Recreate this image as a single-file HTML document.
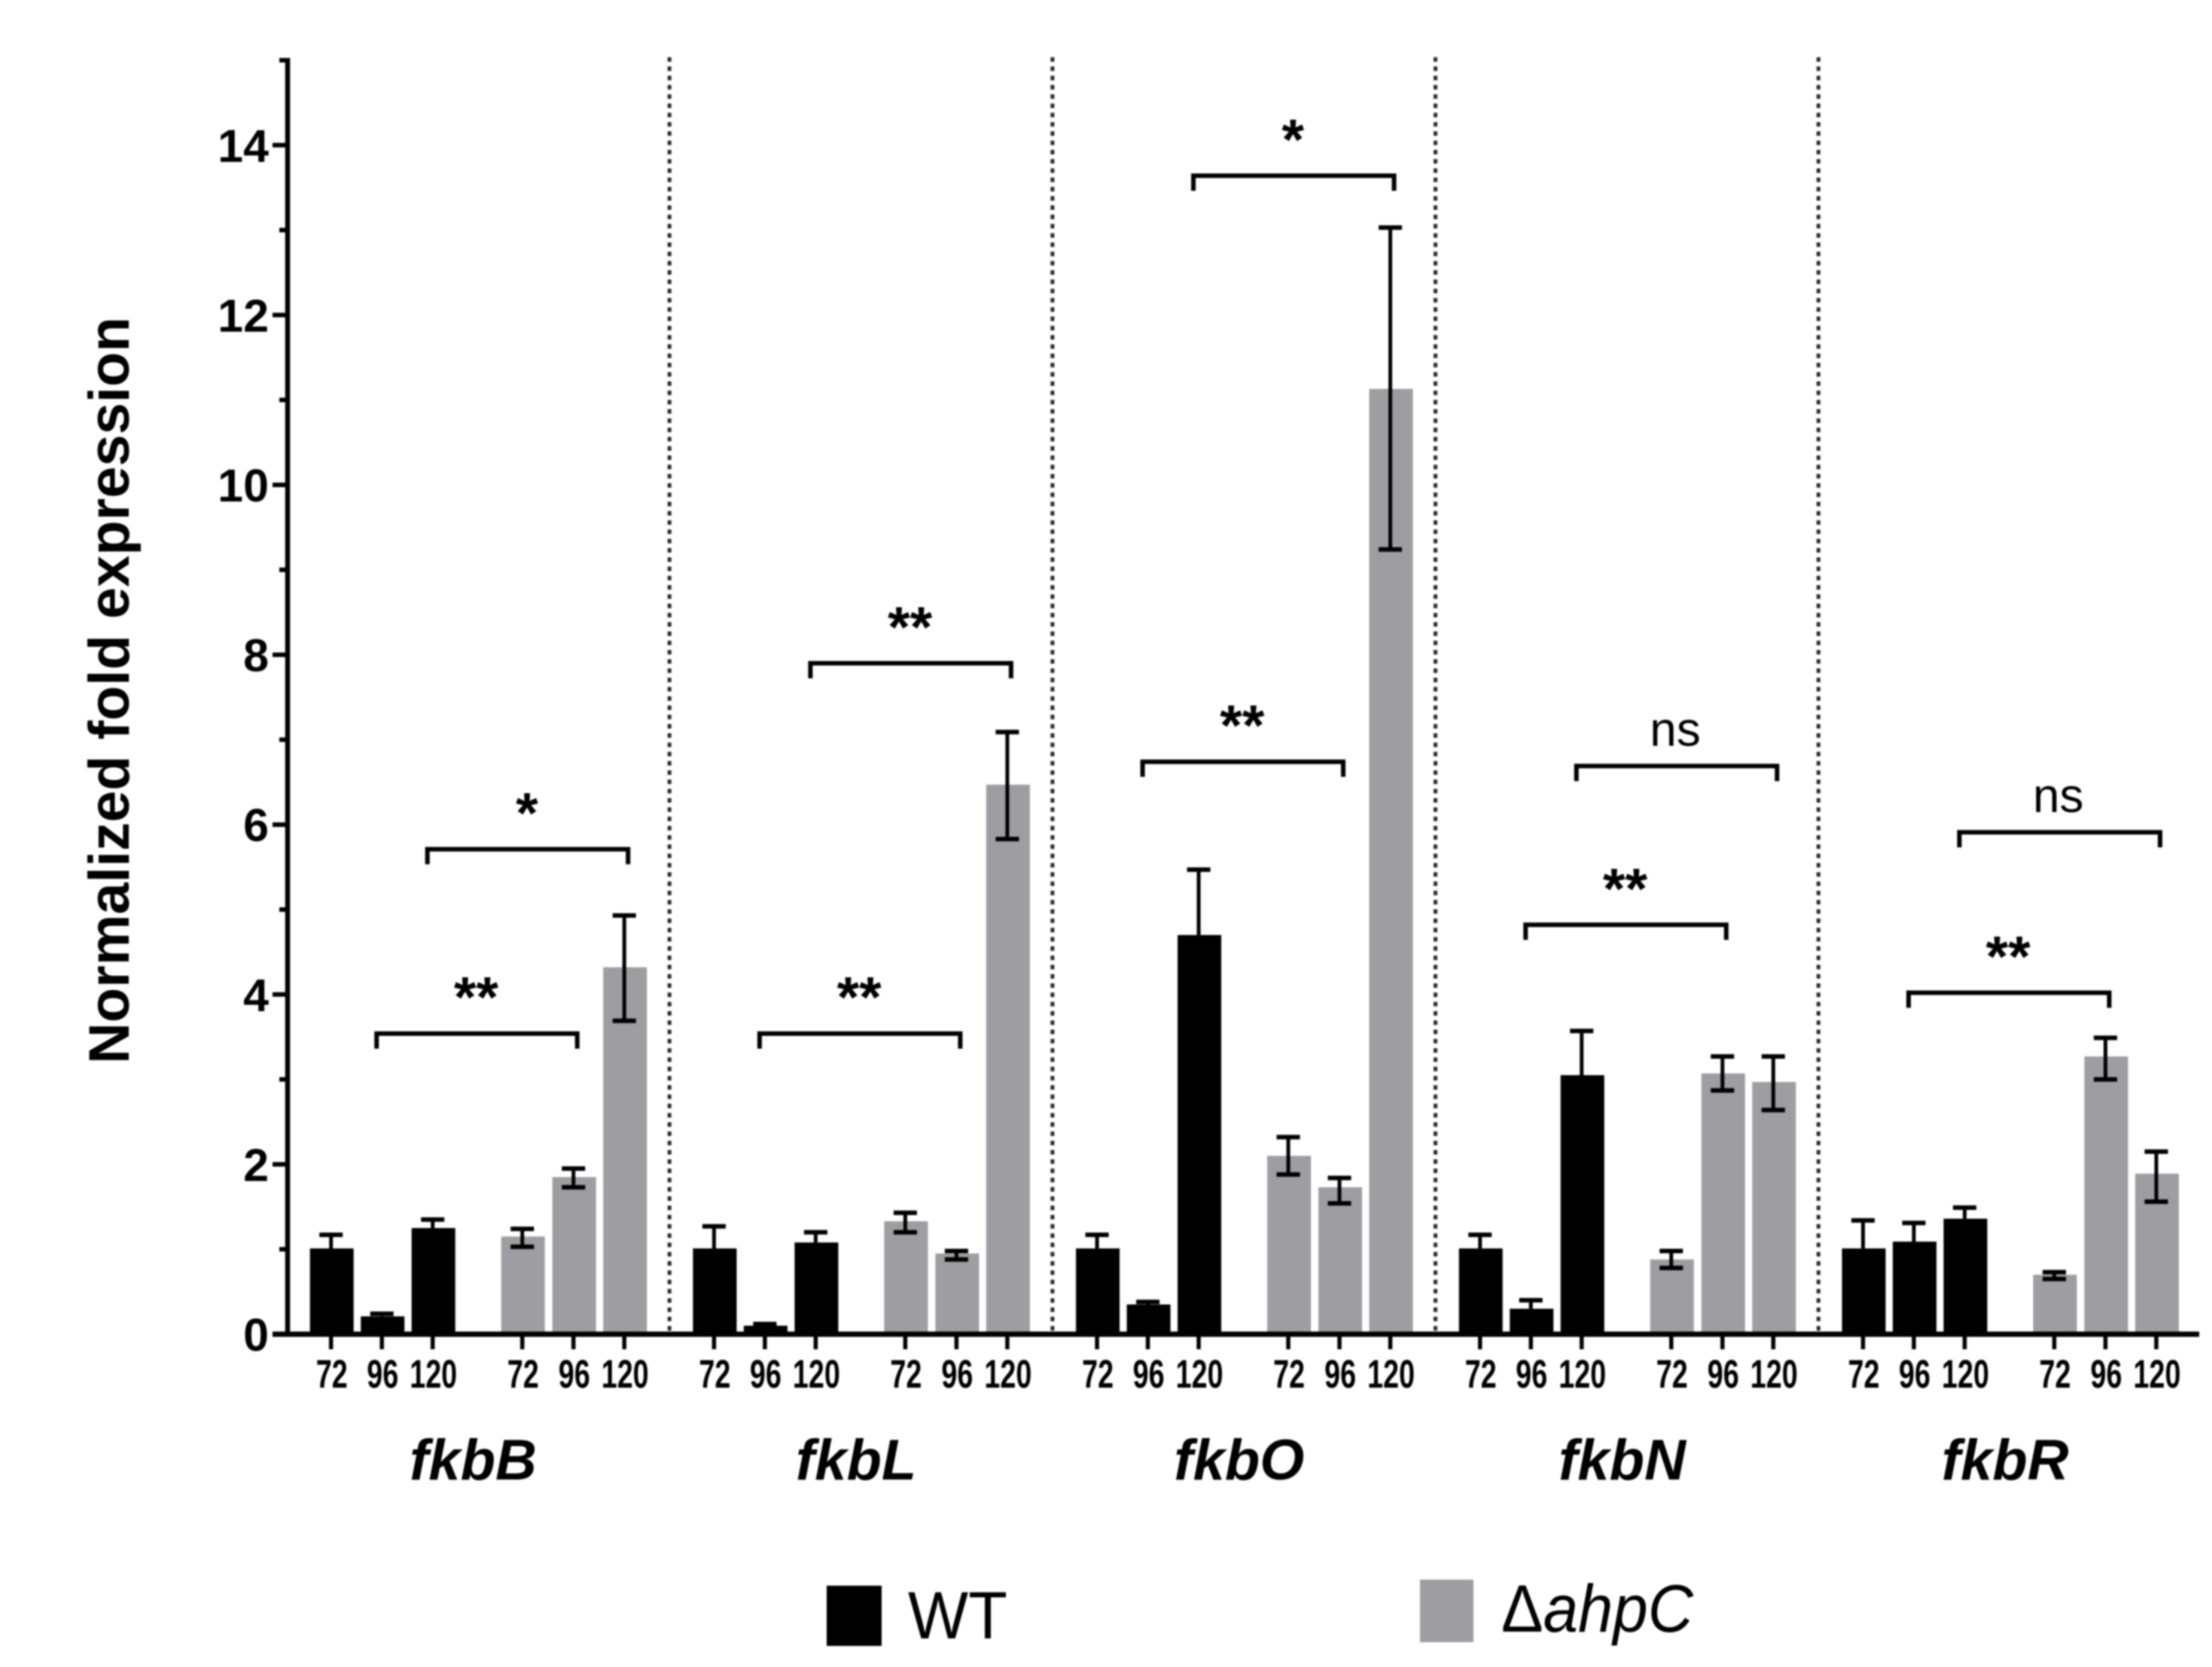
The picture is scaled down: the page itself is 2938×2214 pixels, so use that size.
<!DOCTYPE html>
<html lang="en">
<head>
<meta charset="utf-8">
<title>Normalized fold expression of fkb genes</title>
<style>
html,body{margin:0;padding:0;background:#fff;}
body{width:2938px;height:2214px;overflow:hidden;}
svg{display:block;filter:blur(1.1px);font-family:"Liberation Sans",Arial,sans-serif;}
</style>
</head>
<body>
<svg id="chart" xmlns="http://www.w3.org/2000/svg" width="2938" height="2214" viewBox="0 0 2938 2214">
  <rect x="0" y="0" width="2938" height="2214" fill="#ffffff"/>
  <text transform="translate(171,917) rotate(-90)" text-anchor="middle" font-size="76" font-weight="700" fill="#000" textLength="992" lengthAdjust="spacingAndGlyphs">Normalized fold expression</text>
  <g id="plot"></g>
  <g>
    <g>
      <rect x="1098" y="2106" width="73" height="80" fill="#000"/>
      <text x="1206" y="2176" font-size="89" fill="#000" textLength="132" lengthAdjust="spacingAndGlyphs">WT</text>
    </g>
    <g>
      <rect x="1886" y="2098" width="71" height="83" fill="#9d9da2"/>
      <text x="1994" y="2167" font-size="89" fill="#000" textLength="255" lengthAdjust="spacingAndGlyphs">Δ<tspan font-style="italic">ahpC</tspan></text>
    </g>
  </g>
</svg>
<script>
// ---- chart data ----
const genes = ['fkbB', 'fkbL', 'fkbO', 'fkbN', 'fkbR'];
const timepoints = ['72', '96', '120'];
const yMajorTicks = [0, 2, 4, 6, 8, 10, 12, 14];
const yMinorTicks = [1, 3, 5, 7, 9, 11, 13, 15];
const wtValues = [
  [1.01, 0.21, 1.25],
  [1.01, 0.1, 1.08],
  [1.01, 0.35, 4.7],
  [1.01, 0.3, 3.05],
  [1.01, 1.09, 1.36]
];
const wtErrHigh = [
  [1.17, 0.24, 1.35],
  [1.27, 0.12, 1.2],
  [1.17, 0.38, 5.47],
  [1.17, 0.4, 3.57],
  [1.34, 1.31, 1.49]
];
const ahpcValues = [
  [1.15, 1.85, 4.32],
  [1.33, 0.95, 6.47],
  [2.1, 1.73, 11.13],
  [0.88, 3.07, 2.97],
  [0.7, 3.27, 1.89]
];
const ahpcErrHigh = [
  [1.24, 1.95, 4.93],
  [1.43, 0.98, 7.09],
  [2.32, 1.84, 13.03],
  [0.98, 3.27, 3.27],
  [0.73, 3.49, 2.15]
];
const ahpcErrLow = [
  [1.03, 1.73, 3.69],
  [1.2, 0.88, 5.83],
  [1.88, 1.54, 9.24],
  [0.78, 2.87, 2.64],
  [0.65, 3.0, 1.56]
];
const lowerBracketLevels = [3.54, 3.54, 6.74, 4.82, 4.02];
const lowerBracketLabels = ['**', '**', '**', '**', '**'];
const upperBracketLevels = [5.71, 7.9, 13.64, 6.69, 5.91];
const upperBracketLabels = ['*', '**', '*', 'ns', 'ns'];

// ---- axis functions ----
const NS = 'http://www.w3.org/2000/svg';
const plot = document.getElementById('plot');
const Y0 = 1772, UNIT = 112.8, AXIS_X = 382;
const GROUP_X0 = 439.7, GROUP_STEP = 508.7;
const BAR_OFFSETS = [0, 67.5, 135, 254, 322, 389.5];
const BAR_W = 58, GRAY = '#9d9da2';
function yScale(v) { return Y0 - v * UNIT; }
function xScale(g, slot) { return GROUP_X0 + g * GROUP_STEP + BAR_OFFSETS[slot]; }
function mk(tag, props, text) {
  const el = document.createElementNS(NS, tag);
  for (const k in props) el.setAttribute(k, props[k]);
  if (text !== undefined) el.textContent = text;
  plot.appendChild(el);
  return el;
}
function line(x1, y1, x2, y2, w, color) {
  return mk('line', { x1: x1, y1: y1, x2: x2, y2: y2, stroke: color || '#000', 'stroke-width': w });
}

// ---- dividers ----
for (let g = 0; g < genes.length - 1; g++) {
  const dx = xScale(g, 5) + 60;
  const divider = line(dx, yScale(15) - 4, dx, Y0, 5, '#2a2a2a');
  divider.setAttribute('stroke-dasharray', '6 6.3');
  
  
}

// ---- y ticks ----
yMajorTicks.forEach(function (v) {
  const tick = line(362, yScale(v), AXIS_X, yScale(v), 6);
  
  
  const label = mk('text', { x: 357, y: yScale(v) + 22, 'text-anchor': 'end', 'font-size': 61, 'font-weight': 700, fill: '#000' }, String(v));
  
  
});
yMinorTicks.forEach(function (v) {
  const tick = line(371, yScale(v), AXIS_X, yScale(v), 6);
  
  
});

// ---- bars, error bars, x ticks ----
function drawBar(g, slot, value, high, low, color, timeLabel) {
  const cx = xScale(g, slot);
  const bar = mk('rect', { x: cx - BAR_W / 2 + 1, y: yScale(value), width: BAR_W, height: Y0 - yScale(value), fill: color });
  
  
  const stem = line(cx, yScale(high), cx, yScale(low), 5);
  
  
  const capTop = line(cx - 15.5, yScale(high), cx + 15.5, yScale(high), 6);
  
  
  if (low !== value) {
    const capLow = line(cx - 15.5, yScale(low), cx + 15.5, yScale(low), 6);
    
    
  }
  const tick = line(cx, Y0, cx, Y0 + 20, 5.5);
  
  
  const label = mk('text', { x: cx + 1, y: 1843, 'text-anchor': 'middle', 'font-size': 53, 'font-weight': 700, fill: '#000', textLength: timeLabel.length * 21, lengthAdjust: 'spacingAndGlyphs' }, timeLabel);
  
  
}
genes.forEach(function (gene, g) {
  timepoints.forEach(function (t, i) {
    drawBar(g, i, wtValues[g][i], wtErrHigh[g][i], wtValues[g][i], '#000', t);
    drawBar(g, i + 3, ahpcValues[g][i], ahpcErrHigh[g][i], ahpcErrLow[g][i], GRAY, t);
  });
  const geneLabel = mk('text', { x: (xScale(g, 0) + xScale(g, 5)) / 2 - 6, y: 1965, 'text-anchor': 'middle', 'font-size': 76, 'font-weight': 700, 'font-style': 'italic', fill: '#000' }, gene);
  
  
});

// ---- axes ----
const yAxis = line(AXIS_X, yScale(15) - 3, AXIS_X, Y0 + 3, 6.5);


const xAxis = line(362, Y0, 2921, Y0, 7);



// ---- significance brackets ----
function drawBracket(g, fromSlot, toSlot, level, text) {
  const x1 = xScale(g, fromSlot) - 7, x2 = xScale(g, toSlot) + 5, y = yScale(level);
  const shape = mk('path', { d: 'M' + x1 + ' ' + (y + 20) + 'V' + y + 'H' + x2 + 'V' + (y + 20), fill: 'none', stroke: '#000', 'stroke-width': 6 });
  
  
  const isNs = text === 'ns';
  const label = mk('text', {
    x: (x1 + x2) / 2 + (isNs ? -2 : -1),
    y: y + (isNs ? -27 : -22),
    'text-anchor': 'middle',
    'font-size': isNs ? 64 : 76,
    'font-weight': isNs ? 400 : 700,
    fill: '#000'
  }, text);
  
  
}
genes.forEach(function (gene, g) {
  drawBracket(g, 1, 4, lowerBracketLevels[g], lowerBracketLabels[g]);
  drawBracket(g, 2, 5, upperBracketLevels[g], upperBracketLabels[g]);
});
</script>
</body>
</html>
